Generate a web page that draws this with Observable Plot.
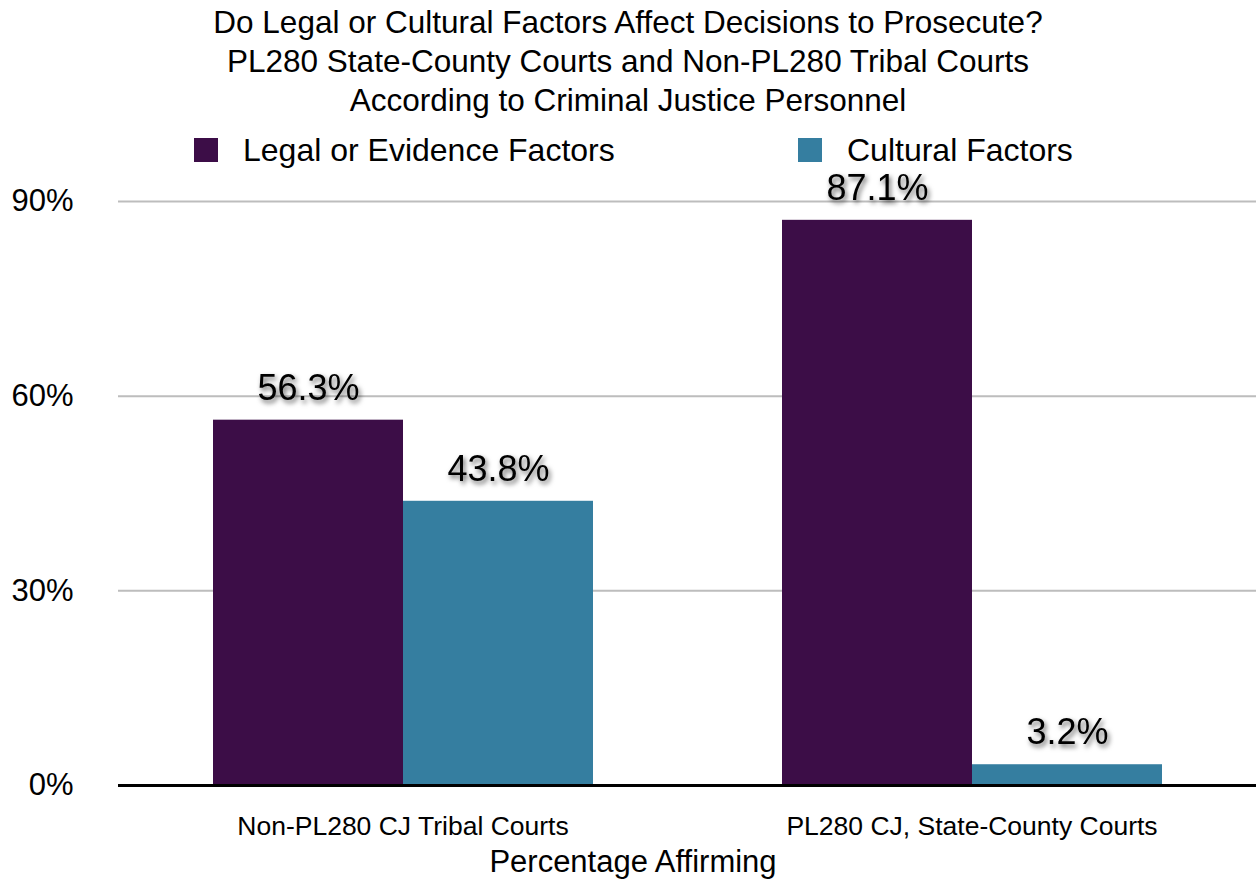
<!DOCTYPE html>
<html><head><meta charset="utf-8">
<script src="https://cdn.jsdelivr.net/npm/d3@7"></script>
<script src="https://cdn.jsdelivr.net/npm/@observablehq/plot@0.6"></script>
<style>
body{margin:0;background:#fff;font-family:"Liberation Sans",Arial,sans-serif;overflow:hidden;color:#000;}
#wrap{position:relative;width:1256px;height:880px;}
#title{padding-top:3px;text-align:center;font-size:31.5px;line-height:39px;height:117px;}
#legend{position:absolute;top:130px;left:0;width:1256px;height:40px;font-size:32px;}
.item{position:absolute;top:0;display:flex;align-items:center;height:40px;white-space:nowrap;}
.sw{width:24px;height:24px;margin-right:25px;flex:none;}
#chart svg{display:block;overflow:visible;}
#caption{text-align:center;font-size:31px;line-height:34px;padding-left:10px;}
</style></head>
<body><div id="wrap">
<div id="title">Do Legal or Cultural Factors Affect Decisions to Prosecute?<br>PL280 State-County Courts and Non-PL280 Tribal Courts<br>According to Criminal Justice Personnel</div>
<div id="chart"></div>
<div id="caption">Percentage Affirming</div>
<div id="legend"></div>
</div>
<script>
const groups = ["Non-PL280 CJ Tribal Courts", "PL280 CJ, State-County Courts"];
const series = ["Legal or Evidence Factors", "Cultural Factors"];
const legalValues = [56.3, 87.1];
const culturalValues = [43.8, 3.2];
const colors = ["#3c0d47", "#357ea0"];
const yTicks = [0, 30, 60, 90];
const legendLeft = [194, 798];

const rows = [];
groups.forEach((g, i) => {
  rows.push({group: g, series: series[0], value: legalValues[i]});
  rows.push({group: g, series: series[1], value: culturalValues[i]});
});

const svg = Plot.plot({
  width: 1256, height: 725,
  marginTop: 81, marginBottom: 60, marginLeft: 118, marginRight: 0,
  style: {fontFamily: "'Liberation Sans', Arial, sans-serif", background: "white", color: "black", overflow: "visible"},
  fx: {domain: groups, padding: 0, label: null},
  x: {domain: series, paddingInner: 0, paddingOuter: 0.495, axis: null},
  y: {domain: [0, 90]},
  color: {domain: series, range: colors},
  marks: [
    Plot.ruleY(yTicks.filter(d => d > 0), {stroke: "#bdbdbd", strokeWidth: 2}),
    Plot.axisY({ticks: yTicks, tickFormat: d => d + "%", tickSize: 0, tickPadding: 45, fontSize: 31, label: null}),
    Plot.barY(rows, {fx: "group", x: "series", y: "value", fill: "series"}),
    Plot.ruleY([0], {stroke: "black", strokeWidth: 3}),
    Plot.text(rows, {fx: "group", x: "series", y: "value", text: d => d.value.toFixed(1) + "%", dy: -32, fontSize: 36, fill: "black", ariaDescription: "values"}),
    Plot.axisFx({anchor: "bottom", tickSize: 0, tickPadding: 31, fontSize: 26.5, label: null})
  ]
});
document.getElementById("chart").appendChild(svg);

// drop shadow on value labels
const s = d3.select(svg);
const defs = s.insert("defs", ":first-child");
const f = defs.append("filter").attr("id", "shadow").attr("x", "-20%").attr("y", "-30%").attr("width", "150%").attr("height", "180%");
f.append("feDropShadow").attr("dx", 2).attr("dy", 3).attr("stdDeviation", 2.5).attr("flood-color", "#000").attr("flood-opacity", 0.6);
s.selectAll('g[aria-description="values"] text').attr("filter", "url(#shadow)");

// legend
const lg = d3.select("#legend");
series.forEach((name, i) => {
  const it = lg.append("div").attr("class", "item").style("left", legendLeft[i] + "px");
  it.append("div").attr("class", "sw").style("background", colors[i]);
  it.append("span").text(name);
});
</script>
</body></html>
